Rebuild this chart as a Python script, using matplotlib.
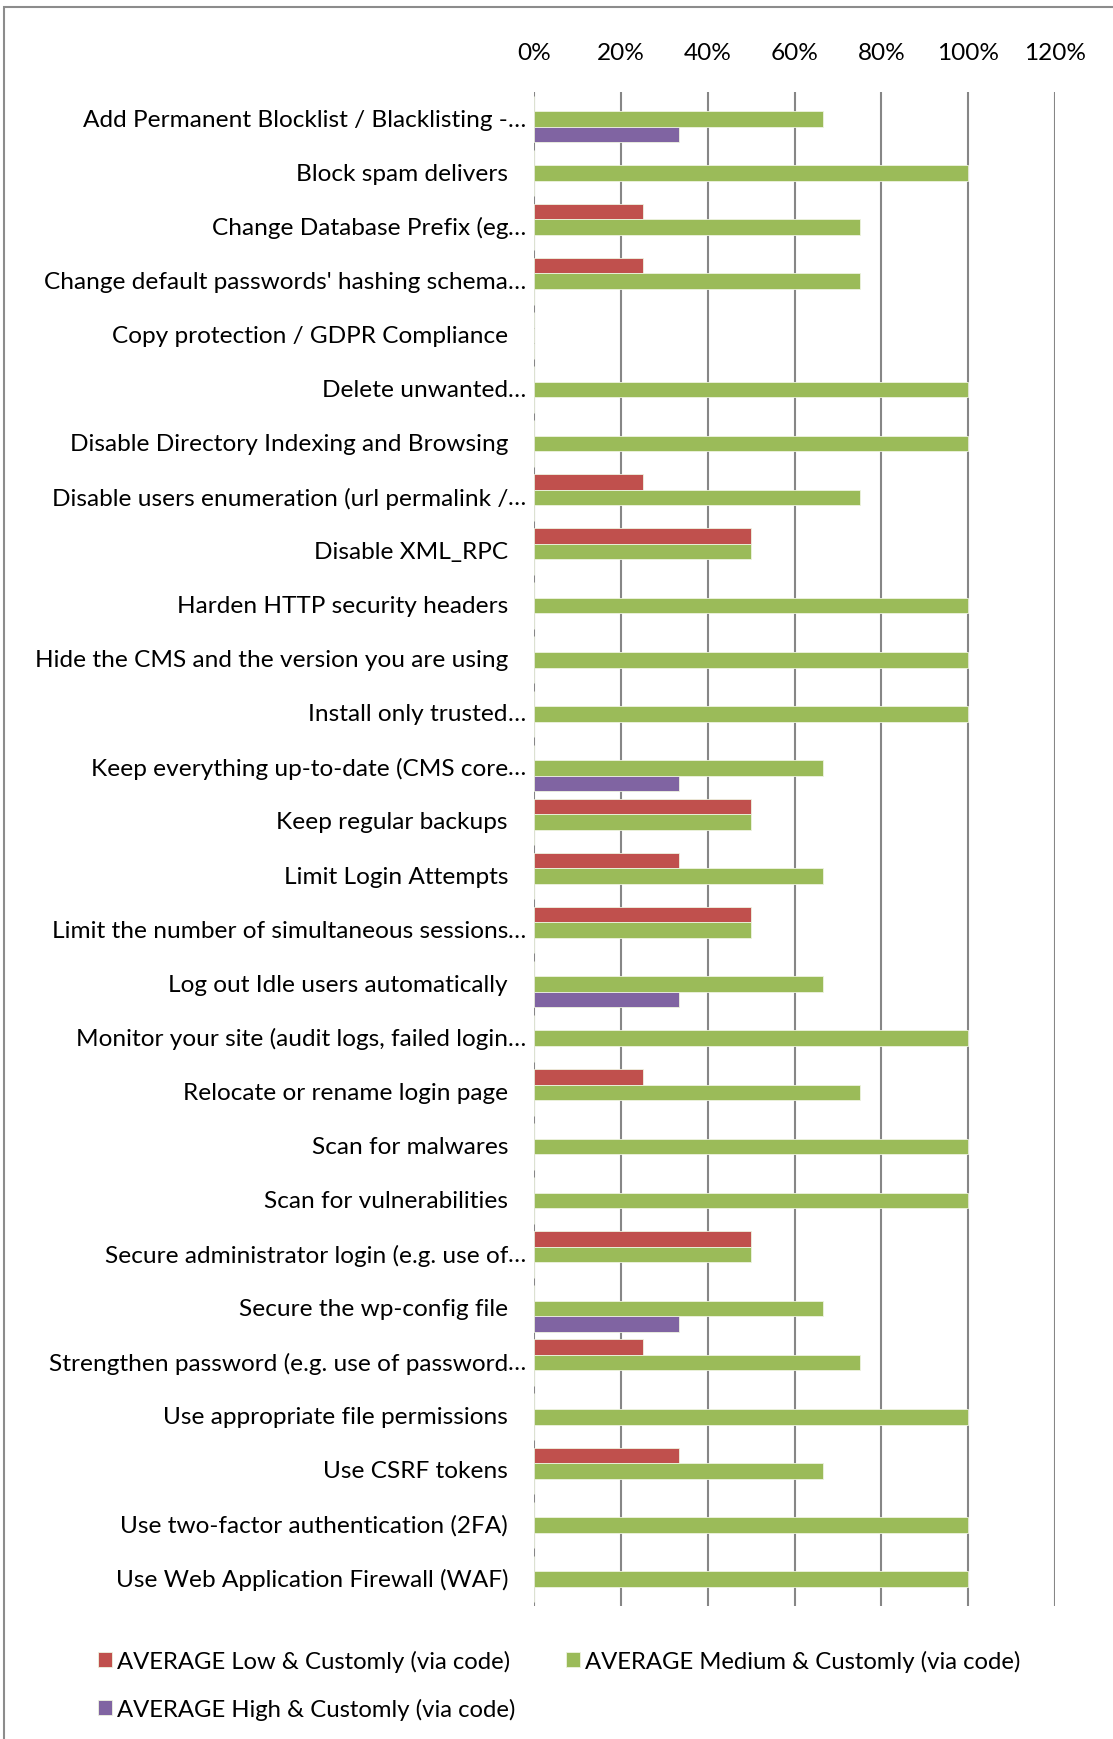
import matplotlib
matplotlib.use("Agg")
import matplotlib.pyplot as plt
import matplotlib.transforms as mtransforms
from matplotlib.patches import Rectangle
import numpy as np

plt.rcParams['font.family'] = ['Lato', 'DejaVu Sans']

categories = [
    "Add Permanent Blocklist / Blacklisting -…",
    "Block spam delivers",
    "Change Database Prefix (eg…",
    "Change default passwords' hashing schema…",
    "Copy protection / GDPR Compliance",
    "Delete unwanted…",
    "Disable Directory Indexing and Browsing",
    "Disable users enumeration (url permalink /…",
    "Disable XML_RPC",
    "Harden HTTP security headers",
    "Hide the CMS and the version you are using",
    "Install only trusted…",
    "Keep everything up-to-date (CMS core…",
    "Keep regular backups",
    "Limit Login Attempts",
    "Limit the number of simultaneous sessions…",
    "Log out Idle users automatically",
    "Monitor your site (audit logs, failed login…",
    "Relocate or rename login page",
    "Scan for malwares",
    "Scan for vulnerabilities",
    "Secure administrator login (e.g. use of…",
    "Secure the wp-config file",
    "Strengthen password (e.g. use of password…",
    "Use appropriate file permissions",
    "Use CSRF tokens",
    "Use two-factor authentication (2FA)",
    "Use Web Application Firewall (WAF)",
]

low = [0, 0, 0.25, 0.25, 0, 0, 0, 0.25, 0.5, 0, 0, 0, 0, 0.5, 1/3, 0.5,
       0, 0, 0.25, 0, 0, 0.5, 0, 0.25, 0, 1/3, 0, 0]
medium = [2/3, 1, 0.75, 0.75, 0, 1, 1, 0.75, 0.5, 1, 1, 1, 2/3, 0.5, 2/3, 0.5,
          2/3, 1, 0.75, 1, 1, 0.5, 2/3, 0.75, 1, 2/3, 1, 1]
high = [1/3, 0, 0, 0, 0, 0, 0, 0, 0, 0, 0, 0, 1/3, 0, 0, 0,
        1/3, 0, 0, 0, 0, 0, 1/3, 0, 0, 0, 0, 0]

series_names = ["AVERAGE Low & Customly (via code)",
                "AVERAGE Medium & Customly (via code)",
                "AVERAGE High & Customly (via code)"]
colors = ["#C0504D", "#9BBB59", "#8064A2"]
xticks = [0, 0.2, 0.4, 0.6, 0.8, 1.0, 1.2]
xticklabels = ["0%", "20%", "40%", "60%", "80%", "100%", "120%"]

FS = 17.6
W, H = 1113, 1740
fig = plt.figure(figsize=(W / 100, H / 100), dpi=100)
ax = fig.add_axes([534 / W, 1 - 1607 / H, (1055 - 534) / W, (1607 - 93) / H])

n = len(categories)
y = np.arange(n)
bh = 0.287
bars = []
for k, (vals, col, name) in enumerate(zip([low, medium, high], colors, series_names)):
    b = ax.barh(y + (k - 1) * bh, vals, height=bh, color=col, edgecolor="#eef3e0",
                linewidth=0.6, label=name, zorder=3)
    bars.append(b)

ax.set_xlim(0, 1.2)
ax.set_ylim(n - 0.5, -0.5)
ax.set_xticks(xticks)
ax.set_xticklabels(xticklabels, fontsize=FS)
ax.xaxis.tick_top()
ax.tick_params(axis='x', length=0, pad=21)
ax.set_yticks([])
for s in ax.spines.values():
    s.set_visible(False)
ax.grid(axis='x', color='#868686', linewidth=1.5, zorder=1)
ax.set_axisbelow(True)

# category labels (text ending with ellipsis overhangs like in Excel)
trans = mtransforms.blended_transform_factory(ax.transAxes, ax.transData)
off = mtransforms.ScaledTranslation(-26 / 100, 0, fig.dpi_scale_trans)
for i, lab in enumerate(categories):
    base = lab[:-1] if lab.endswith("…") else lab
    ax.text(0, i, base, transform=trans + off, ha='right', va='center', fontsize=FS)
    if lab.endswith("…"):
        ax.text(0, i, "…", transform=trans + off, ha='left', va='center', fontsize=FS)

handles = [bars[0], bars[2], bars[1]]
labels = [series_names[0], series_names[2], series_names[1]]
leg = fig.legend(handles, labels, loc='upper left', bbox_to_anchor=(88 / W, 1 - 1641 / H),
                 ncol=2, frameon=False, fontsize=17.2, handlelength=0.62, handleheight=0.62,
                 handletextpad=0.2, columnspacing=2.1, labelspacing=1.1, borderaxespad=0)

# chart-area border (left and top visible)
fig.patches.append(Rectangle((4 / W, -0.05), 1.2, 1 - 8 / H + 0.05, transform=fig.transFigure,
                             fill=False, edgecolor='#8c8c8c', linewidth=1.5))

fig.savefig("out.png", dpi=100)
